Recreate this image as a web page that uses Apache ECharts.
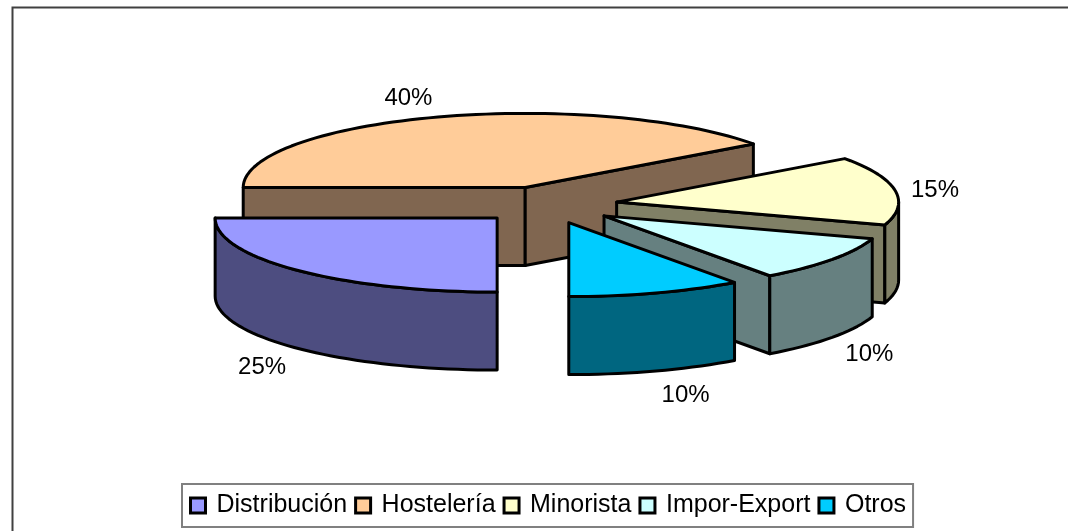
<!DOCTYPE html>
<html>
<head>
<meta charset="utf-8">
<script src="https://cdn.jsdelivr.net/npm/echarts@6/dist/echarts.min.js"></script>
<style>
html, body {margin: 0; padding: 0; background: #fff;}
#chart {width: 1068px; height: 531px;}
</style>
</head>
<body>
<div id="chart"></div>
<script>
// data
var categories = ['Distribución', 'Hostelería', 'Minorista', 'Impor-Export', 'Otros'];
var values = [25, 40, 15, 10, 10];
var topColors = ['#9999FF', '#FFCC99', '#FFFFCC', '#CCFFFF', '#00CCFF'];
var sideColors = ['#4D4D80', '#806650', '#808066', '#668080', '#006680'];

// pie layout (pixels)
var cx = 547, cy = 205;       // centre of the top face
var rx = 282, ry = 74;        // ellipse radii
var depth = 78;               // thickness
var explode = 0.25;           // share of radius
var startAngle = 180;         // degrees, clockwise from 12 o'clock

var total = values.reduce(function (s, v) { return s + v; }, 0);
var cum = [];
values.reduce(function (s, v, i) { cum[i] = s; return s + v; }, 0);

function rad(d) { return d * Math.PI / 180; }

function makeRender(idx) {
    return function (params, api) {
        var a0 = startAngle + cum[idx] / total * 360;
        var a1 = a0 + values[idx] / total * 360;
        var mid = (a0 + a1) / 2;
        var ox = cx + explode * rx * Math.sin(rad(mid));
        var oy = cy - explode * ry * Math.cos(rad(mid));
        function pt(phi, dz) {
            return [ox + rx * Math.sin(rad(phi)), oy - ry * Math.cos(rad(phi)) + dz];
        }
        function arc(p0, p1, dz) {
            var pts = [], n = Math.max(2, Math.ceil((p1 - p0) / 2));
            for (var k = 0; k <= n; k++) pts.push(pt(p0 + (p1 - p0) * k / n, dz));
            return pts;
        }
        var line = {stroke: '#000', lineWidth: 3, lineJoin: 'round'};
        var side = echarts.util.extend({fill: sideColors[idx]}, line);
        var top = echarts.util.extend({fill: topColors[idx]}, line);
        var kids = [];

        // cut faces
        if (Math.sin(rad(a0)) < -1e-6) {
            kids.push({type: 'polygon', shape: {points: [[ox, oy], pt(a0, 0), pt(a0, depth), [ox, oy + depth]]}, style: side});
        }
        if (Math.sin(rad(a1)) > 1e-6) {
            kids.push({type: 'polygon', shape: {points: [[ox, oy], pt(a1, 0), pt(a1, depth), [ox, oy + depth]]}, style: side});
        }
        // outer rim, front half only
        [[90, 270], [450, 630]].forEach(function (w) {
            var s = Math.max(a0, w[0]), e = Math.min(a1, w[1]);
            if (e - s > 0.01) {
                var upper = arc(s, e, 0), lower = arc(s, e, depth).reverse();
                kids.push({type: 'polygon', shape: {points: upper.concat(lower)}, style: side});
            }
        });
        // top face
        kids.push({type: 'polygon', shape: {points: [[ox, oy]].concat(arc(a0, a1, 0))}, style: top});

        // percent label
        var sn = Math.sin(rad(mid)), cs = Math.cos(rad(mid));
        var lx = cx + (rx * (1 + explode) + 15) * sn + 25 * (sn > 0 ? 1 : -1);
        var ly = cy + 3 - (ry * (1 + explode) + 23) * cs + (cs < 0 ? depth : 0);
        kids.push({
            type: 'text', z2: 50,
            style: {
                x: lx, y: ly, text: Math.round(values[idx] / total * 100) + '%',
                fill: '#000', font: '24px "Liberation Sans", Arial, sans-serif',
                align: 'center', verticalAlign: 'middle'
            }
        });
        return {type: 'group', children: kids};
    };
}

// back slices first
var order = values.map(function (v, i) {
    var mid = startAngle + (cum[i] + v / 2) / total * 360;
    return -Math.cos(rad(mid));
});

var series = categories.map(function (name, i) {
    return {
        type: 'custom',
        name: name,
        coordinateSystem: 'none',
        z: 2 + order[i],
        itemStyle: {color: topColors[i]},
        silent: true,
        animation: false,
        data: [values[i]],
        renderItem: makeRender(i)
    };
});

var chart = echarts.init(document.getElementById('chart'));
chart.setOption({
    backgroundColor: '#fff',
    animation: false,
    graphic: [{
        type: 'rect', left: 10, top: 5, silent: true,
        shape: {width: 1100, height: 600},
        style: {fill: 'none', stroke: '#404040', lineWidth: 2}
    }],
    legend: {
        left: 182, top: 484,
        padding: [9, 7, 9, 7],
        itemGap: 7,
        itemWidth: 15, itemHeight: 15,
        icon: 'rect',
        borderColor: '#808080', borderWidth: 2,
        backgroundColor: '#fff',
        itemStyle: {borderColor: '#000', borderWidth: 3},
        textStyle: {fontSize: 25, fontFamily: '"Liberation Sans", Arial, sans-serif', color: '#000', padding: [0, 0, 0, 6]},
        data: categories
    },
    series: series
});
</script>
</body>
</html>
